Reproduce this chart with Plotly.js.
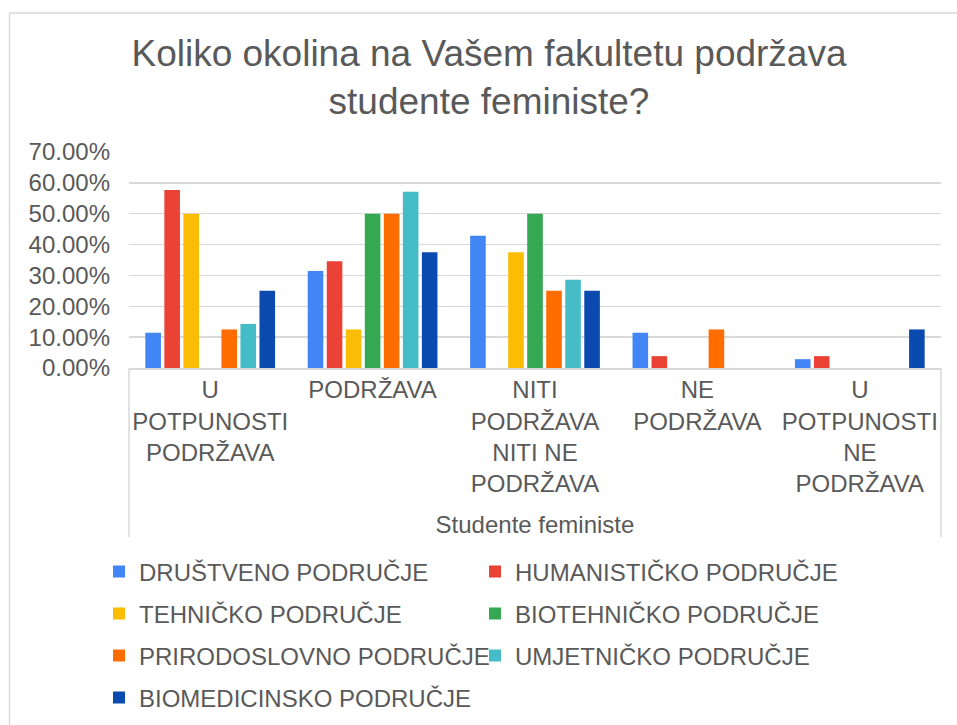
<!DOCTYPE html>
<html>
<head>
<meta charset="utf-8">
<script src="https://cdn.plot.ly/plotly-3.0.1.min.js"></script>
<style>html,body{margin:0;padding:0;background:#fff;}#chart{width:957px;height:725px;}</style>
</head>
<body>
<div id="chart"></div>
<script>
var categories = ["U<br>POTPUNOSTI<br>PODRŽAVA", "PODRŽAVA", "NITI<br>PODRŽAVA<br>NITI NE<br>PODRŽAVA", "NE<br>PODRŽAVA", "U<br>POTPUNOSTI<br>NE<br>PODRŽAVA"];
var seriesNames = ["DRUŠTVENO PODRUČJE", "HUMANISTIČKO PODRUČJE", "TEHNIČKO PODRUČJE", "BIOTEHNIČKO PODRUČJE", "PRIRODOSLOVNO PODRUČJE", "UMJETNIČKO PODRUČJE", "BIOMEDICINSKO PODRUČJE"];
var drustveno = [0.1143, 0.3143, 0.4286, 0.1143, 0.0286];
var humanisticko = [0.5769, 0.3462, 0, 0.0385, 0.0385];
var tehnicko = [0.50, 0.125, 0.375, 0, 0];
var biotehnicko = [0, 0.50, 0.50, 0, 0];
var prirodoslovno = [0.125, 0.50, 0.25, 0.125, 0];
var umjetnicko = [0.1429, 0.5714, 0.2857, 0, 0];
var biomedicinsko = [0.25, 0.375, 0.25, 0, 0.125];
var yTickValues = [0, 0.1, 0.2, 0.3, 0.4, 0.5, 0.6, 0.7];

var colors = ["#4285F4", "#EA4335", "#FBBC04", "#34A853", "#FF6D01", "#46BDC6", "#0B4BB0"];
var allSeries = [drustveno, humanisticko, tehnicko, biotehnicko, prirodoslovno, umjetnicko, biomedicinsko];
var legendIds = ["legend", "legend", "legend2", "legend2", "legend3", "legend3", "legend4"];

var W = 957, H = 725;
var mL = 129, mR = 16, mT = 152, mB = 357;
var pw = W - mL - mR, ph = H - mT - mB;
function px(x) { return (x - mL) / pw; }
function py(y) { return (H - mB - y) / ph; }

var traces = allSeries.map(function (vals, i) {
  return {
    type: "bar",
    name: seriesNames[i],
    x: categories,
    y: vals,
    marker: { color: colors[i] },
    legend: legendIds[i]
  };
});

var txt = "#595959";
var fontFam = "Liberation Sans, Arial, sans-serif";
var grid = "#d9d9d9";

function legendAt(yCenter) {
  return {
    orientation: "h",
    x: px(99), xanchor: "left",
    y: py(yCenter), yanchor: "middle",
    entrywidth: 331, entrywidthmode: "pixels",
    font: { family: fontFam, size: 24, color: txt },
    bgcolor: "rgba(0,0,0,0)", borderwidth: 0,
    traceorder: "normal"
  };
}

var layout = {
  width: W, height: H,
  margin: { l: mL, r: mR, t: mT, b: mB, autoexpand: false },
  paper_bgcolor: "#ffffff", plot_bgcolor: "#ffffff",
  font: { family: fontFam, color: txt, size: 24 },
  title: {
    text: "Koliko okolina na Vašem fakultetu podržava<br>studente feministe?",
    font: { family: fontFam, size: 37, color: txt },
    xref: "container", x: 489 / W, xanchor: "center",
    yref: "container", y: 1 - 66 / H, yanchor: "middle"
  },
  barmode: "group",
  bargap: 0.18,
  bargroupgap: 0.18,
  xaxis: {
    type: "category",
    showgrid: false,
    showline: true, linecolor: grid, linewidth: 1.5,
    ticks: "",
    tickfont: { family: fontFam, size: 24, color: txt },
    automargin: false,
    title: { text: "Studente feministe", font: { family: fontFam, size: 24, color: txt }, standoff: 20 }
  },
  yaxis: {
    range: [0, 0.7],
    tickvals: yTickValues,
    tickformat: ".2%",
    showgrid: true, gridcolor: grid, gridwidth: 1.3,
    zeroline: false, showline: false, ticks: "",
    ticklabelstandoff: 18,
    tickfont: { family: fontFam, size: 24, color: txt },
    automargin: false
  },
  legend: legendAt(572),
  legend2: legendAt(614),
  legend3: legendAt(656),
  legend4: legendAt(698),
  shapes: [
    { type: "line", xref: "paper", yref: "paper", x0: px(9.5), x1: px(9.5), y0: py(13), y1: py(726), line: { color: grid, width: 1.5 } },
    { type: "line", xref: "paper", yref: "paper", x0: px(9.5), x1: px(958), y0: py(13), y1: py(13), line: { color: grid, width: 1.5 } },
    { type: "line", xref: "paper", yref: "paper", x0: 0, x1: 0, y0: 0, y1: py(537), line: { color: grid, width: 1.5 } },
    { type: "line", xref: "paper", yref: "paper", x0: 1, x1: 1, y0: 0, y1: py(537), line: { color: grid, width: 1.5 } }
  ],
  showlegend: true
};

Plotly.newPlot("chart", traces, layout, { displayModeBar: false, staticPlot: true });
</script>
</body>
</html>
